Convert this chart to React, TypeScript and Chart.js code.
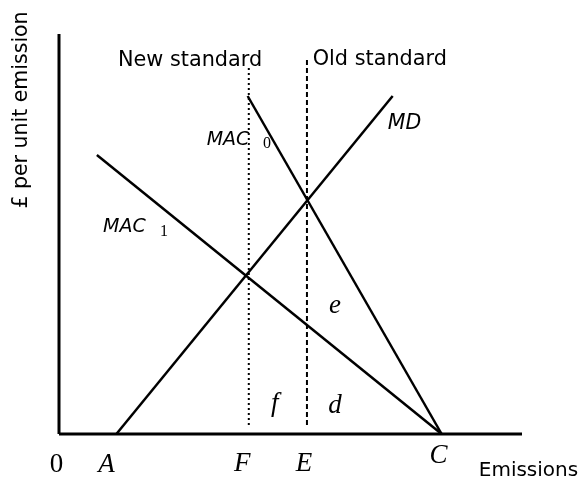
import React, { useEffect, useRef } from "react";
import { Chart, registerables } from "chart.js";

Chart.register(...registerables);

// ---- data (in chart units) ----
const X_MAX = 121;
const Y_MAX = 100;

const axisX = [0, 121];
const axisY = [0, 100];

const mac0X = [49.3, 100];
const mac0Y = [84.5, 0];

const mac1X = [9.9, 100];
const mac1Y = [69.75, 0];

const mdX = [15, 87.2];
const mdY = [0, 84.5];

const newStandardX = 49.6;
const newStandardY = [2.25, 91.75];

const oldStandardX = 64.8;
const oldStandardY = [2.25, 94];

const SANS = '"DejaVu Sans", Verdana, sans-serif';
const SERIF = '"Liberation Serif", "Times New Roman", serif';

type Label = { text: string; x: number; y: number; font: string; align: CanvasTextAlign; rotate?: boolean };

const labelTexts = ["New standard", "Old standard", "MAC", "0", "MAC", "1", "MD", "e", "f", "d", "0", "A", "F", "E", "C", "Emissions", "£ per unit emission"];
const labelXs = [15.4, 66.3, 38.6, 53.3, 11.5, 26.4, 85.9, 72.1, 56.4, 72.1, -0.65, 12.4, 47.9, 64.0, 99.2, 109.7, -9.8];
const labelYs = [92, 92.25, 72.25, 71.5, 50.5, 49.5, 76.25, 30.25, 5.75, 5.25, -9.5, -9.5, -9.25, -9.25, -7.25, -10.5, 81];

const fStd = `20.8px ${SANS}`;
const fEm = `20px ${SANS}`;
const fYl = `20.5px ${SANS}`;
const fMac = `italic 19px ${SANS}`;
const fMd = `italic 20.5px ${SANS}`;
const fSub = `16px ${SERIF}`;
const fSerifIt = `italic 27px ${SERIF}`;
const fSerif = `27px ${SERIF}`;
const labelFonts = [fStd, fStd, fMac, fSub, fMac, fSub, fMd, fSerifIt, fSerifIt, fSerifIt, fSerif, fSerifIt, fSerifIt, fSerifIt, fSerifIt, fEm, fYl];
const labelAligns: CanvasTextAlign[] = ["left", "left", "left", "left", "left", "left", "left", "center", "center", "center", "center", "center", "center", "center", "center", "left", "center"];

const labels: Label[] = labelTexts.map((t, i) => ({
  text: t,
  x: labelXs[i],
  y: labelYs[i],
  font: labelFonts[i],
  align: labelAligns[i],
  rotate: i === labelTexts.length - 1,
}));

const pts = (xs: number[], ys: number[]) => xs.map((x, i) => ({ x, y: ys[i] }));

const labelPlugin = {
  id: "textLabels",
  afterDatasetsDraw(chart: any) {
    const { ctx, scales } = chart;
    ctx.save();
    ctx.fillStyle = "#000";
    for (const l of labels) {
      const px = scales.x.getPixelForValue(l.x);
      const py = scales.y.getPixelForValue(l.y);
      ctx.font = l.font;
      ctx.textAlign = l.align;
      if (l.rotate) {
        ctx.save();
        ctx.translate(px, py);
        ctx.rotate(-Math.PI / 2);
        ctx.textBaseline = "middle";
        ctx.fillText(l.text, 0, 0);
        ctx.restore();
      } else {
        ctx.textBaseline = "alphabetic";
        ctx.fillText(l.text, px, py);
      }
    }
    ctx.restore();
  },
};

export default function App() {
  const ref = useRef<HTMLCanvasElement | null>(null);
  useEffect(() => {
    if (!ref.current) return;
    const base = { showLine: true, pointRadius: 0, borderColor: "#000", clip: false as any, fill: false };
    const chart = new Chart(ref.current, {
      type: "scatter",
      data: {
        datasets: [
          { ...base, data: [{ x: 0, y: axisY[0] }, { x: 0, y: axisY[1] }], borderWidth: 3 },
          { ...base, data: [{ x: axisX[0], y: 0 }, { x: axisX[1], y: 0 }], borderWidth: 3 },
          { ...base, data: pts(mac0X, mac0Y), borderWidth: 2.5 },
          { ...base, data: pts(mac1X, mac1Y), borderWidth: 2.5 },
          { ...base, data: pts(mdX, mdY), borderWidth: 2.5 },
          {
            ...base,
            data: newStandardY.map((y) => ({ x: newStandardX, y })),
            borderWidth: 2,
            borderDash: [2, 3],
          },
          {
            ...base,
            data: oldStandardY.map((y) => ({ x: oldStandardX, y })),
            borderWidth: 2,
            borderDash: [5, 3],
          },
        ],
      },
      options: {
        responsive: false,
        animation: false,
        layout: { padding: { left: 59, right: 58, top: 34, bottom: 46 } },
        plugins: { legend: { display: false }, tooltip: { enabled: false } },
        scales: {
          x: { type: "linear", min: 0, max: X_MAX, display: false },
          y: { type: "linear", min: 0, max: Y_MAX, display: false },
        },
      },
      plugins: [labelPlugin],
    });
    return () => chart.destroy();
  }, []);
  return (
    <div style={{ position: "fixed", left: 0, top: 0, width: 580, height: 480, background: "#fff" }}>
      <canvas ref={ref} width={580} height={480} style={{ display: "block" }} />
    </div>
  );
}
